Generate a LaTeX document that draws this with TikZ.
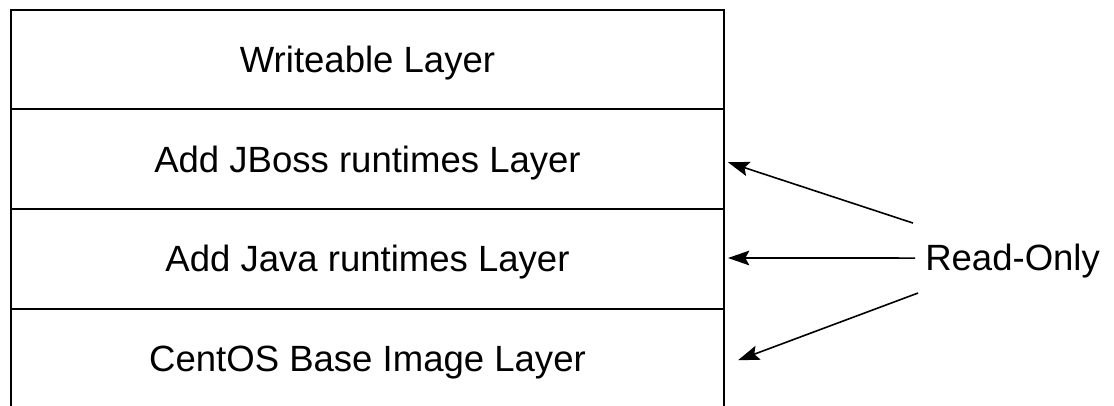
\documentclass[tikz,border=0pt]{standalone}
\usepackage{fontspec}
\setmainfont{Liberation Sans}
\usetikzlibrary{arrows.meta,positioning}

\begin{document}
\begin{tikzpicture}[x=0.75pt, y=-0.75pt,
  layer/.style={draw, line width=1.5pt, minimum width=534.75pt, minimum height=74.625pt,
    inner sep=0pt, outer sep=0pt, text depth=0pt, font=\fontsize{27.4}{32}\selectfont},
  pointer/.style={line width=1.2pt, -{Stealth[length=16pt, width=11pt, inset=3pt]}}]
\useasboundingbox (0,0) rectangle (1114,406);

% Layer stack
\node[layer, anchor=north west] (writeable) at (11,10) {Writeable Layer};
\node[layer, below=0pt of writeable] (jboss) {Add JBoss runtimes Layer};
\node[layer, below=0pt of jboss] (java) {Add Java runtimes Layer};
\node[layer, below=0pt of java] (centos) {CentOS Base Image Layer};

% Label
\node[font=\fontsize{27.4}{32}\selectfont, inner sep=0pt, anchor=base west] (readonly) at (925,270) {Read-Only};

% Pointers
\draw[pointer] ([shift={(-12,-37.5)}]readonly.west) -- ([shift={(4,3)}]jboss.east);
\draw[pointer] ([shift={(-10,-2.5)}]readonly.west) -- ([shift={(4,-0.75)}]java.east);
\draw[pointer] ([shift={(-7,32.5)}]readonly.west) -- ([shift={(14,2)}]centos.east);
\end{tikzpicture}
\end{document}
